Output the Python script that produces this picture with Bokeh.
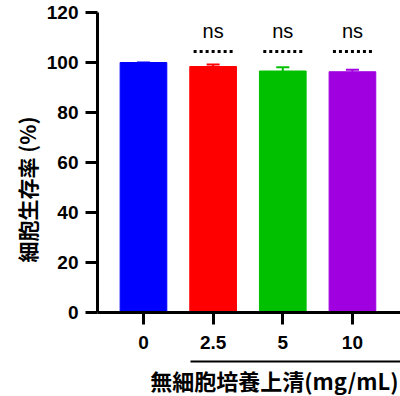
from bokeh.plotting import figure
from bokeh.models import Range1d, LinearAxis, FixedTicker, Whisker, ColumnDataSource, TeeHead, Title
from bokeh.core.properties import value, field
from bokeh.embed import file_html
from bokeh.resources import INLINE

categories = ["0", "2.5", "5", "10"]
means = [100.0, 98.4, 96.6, 96.3]
errors = [0.0, 0.8, 1.5, 0.8]
colors = ["#0000FF", "#FF0000", "#00C000", "#A000E0"]
sig_labels = ["ns", "ns", "ns"]
y_ticks = [0, 20, 40, 60, 80, 100, 120]
y_title = "細胞生存率 (%)"
x_title = "無細胞培養上清(mg/mL)"

xs = list(range(len(categories)))
src = ColumnDataSource(dict(
    x=xs, top=means,
    upper=[m + e for m, e in zip(means, errors)],
    lower=means, color=colors))

p = figure(width=400, height=396, output_backend="svg", toolbar_location=None,
           x_range=Range1d(-0.66, 3.69), y_range=Range1d(0, 124.8),
           x_axis_location=None,
           min_border_left=97, min_border_right=0, min_border_top=0, min_border_bottom=84)
p.outline_line_color = None
p.grid.visible = False
p.background_fill_color = "white"

p.vbar(x="x", top="top", width=0.67, color="color", source=src)
w = Whisker(base="x", upper="upper", lower="lower", source=src,
            line_color=field("color"), line_width=2,
            upper_head=TeeHead(size=13, line_color=field("color"), line_width=2),
            lower_head=None)
p.add_layout(w)

sx = xs[1:]
p.text(x=sx, y=[112.8] * len(sx), text=sig_labels, text_align="center",
       text_baseline="middle", text_font=value("Liberation Sans"),
       text_font_size="20px", text_color="black")
p.segment(x0=[x - 0.28 for x in sx], x1=[x + 0.28 for x in sx],
          y0=[104.4] * len(sx), y1=[104.4] * len(sx),
          line_color="black", line_width=3, line_dash="3 3")

ya = p.yaxis[0]
ya.ticker = FixedTicker(ticks=y_ticks)
ya.bounds = (0, 120)
ya.axis_line_width = 3
ya.major_tick_line_width = 3
ya.major_tick_out = 12
ya.major_tick_in = 0
ya.minor_tick_line_color = None
ya.major_label_text_font = "Liberation Sans"
ya.major_label_text_font_style = "bold"
ya.major_label_text_font_size = "19px"
ya.major_label_text_color = "black"
ya.major_label_standoff = 7

ax1 = LinearAxis(ticker=FixedTicker(ticks=xs),
                 major_label_overrides={i: c for i, c in zip(xs, categories)})
ax1.axis_line_width = 3
ax1.major_tick_line_width = 3
ax1.major_tick_out = 12
ax1.major_tick_in = 0
ax1.minor_tick_line_color = None
ax1.major_label_text_font = "Liberation Sans"
ax1.major_label_text_font_style = "bold"
ax1.major_label_text_font_size = "19px"
ax1.major_label_text_color = "black"
ax1.major_label_standoff = 11
ax1.axis_label = " "
ax1.axis_label_text_font_size = "9px"
ax1.axis_label_standoff = -3
p.add_layout(ax1, "below")

ax2 = LinearAxis(ticker=FixedTicker(ticks=[]), bounds=(0.67, 3.69))
ax2.axis_line_width = 2
ax2.major_tick_line_color = None
ax2.minor_tick_line_color = None
ax2.major_tick_out = 0
ax2.major_tick_in = 0
ax2.minor_tick_out = 0
ax2.minor_tick_in = 0
ax2.major_label_standoff = 0
p.add_layout(ax2, "below")

p.add_layout(Title(text=y_title, align="left", offset=50, standoff=4,
                   text_font="Noto Sans CJK JP", text_font_style="bold",
                   text_font_size="21px", text_color="black"), "left")
p.add_layout(Title(text=x_title, align="right", offset=2, standoff=0,
                   text_font="Noto Sans CJK JP", text_font_style="bold",
                   text_font_size="22px", text_color="black"), "below")

open("out.html", "w").write(file_html(p, INLINE))
